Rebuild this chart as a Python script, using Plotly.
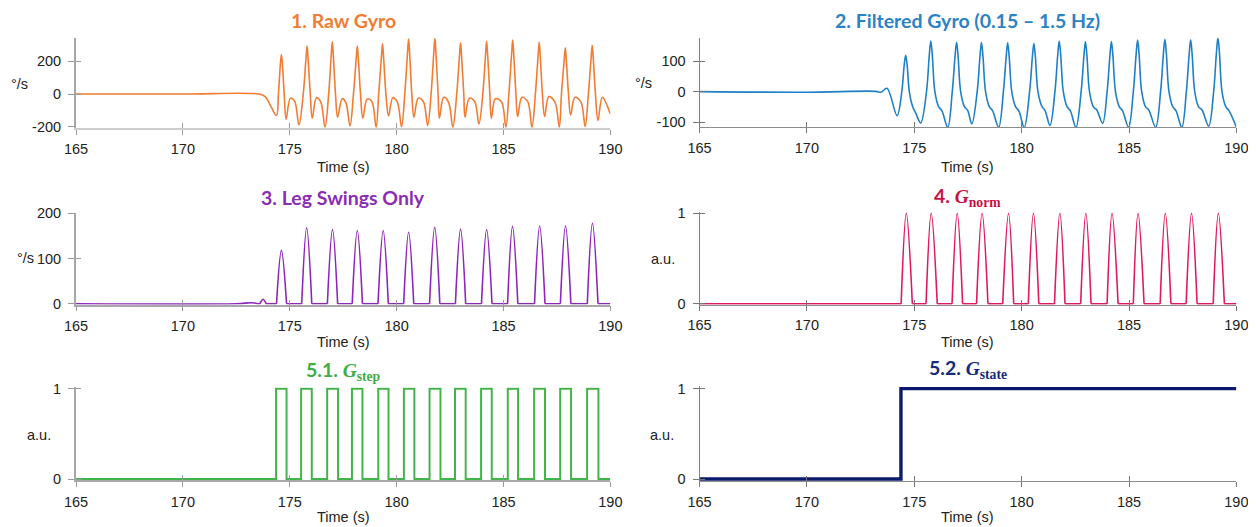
import plotly.graph_objects as go

# page body has an 8px margin: the figure is drawn at (8, 8) in the window
OFF = 8
W, H = 1256 - OFF, 527 - OFF

# ---------------- data ----------------
x_ticks = [165, 170, 175, 180, 185, 190]

# 1. Raw gyro key points
raw_pre_t = [165.0, 170.0, 173.55, 173.85, 174.10, 174.38]
raw_pre_v = [0, 0, 0, -15, -70, -131]
raw_up_t = [174.47, 175.63, 176.82, 177.98, 179.16, 180.38, 181.61, 182.81, 184.03, 185.25, 186.49, 187.71, 188.97]
raw_up_v = [0, 0, 0, 0, 0, 0, 0, 0, 0, 0, 0, 0, 0]
raw_hr_t = [174.56, 175.76, 176.94, 178.11, 179.29, 180.51, 181.74, 182.94, 184.16, 185.38, 186.62, 187.84, 189.10]
raw_hr_v = [180, 219, 238, 219, 230, 253, 257, 234, 241, 247, 237, 211, 223]
raw_peak_t = [174.61, 175.81, 176.99, 178.16, 179.34, 180.56, 181.79, 182.99, 184.21, 185.43, 186.67, 187.89, 189.15]
raw_peak_v = [241, 292, 318, 292, 306, 337, 343, 312, 322, 329, 316, 282, 298]
raw_hf_t = [174.66, 175.86, 177.04, 178.21, 179.39, 180.61, 181.84, 183.04, 184.26, 185.48, 186.72, 187.94, 189.20]
raw_hf_v = [175, 212, 230, 212, 222, 245, 249, 226, 233, 239, 229, 204, 216]
raw_down_t = [174.74, 175.96, 177.14, 178.31, 179.50, 180.71, 181.94, 183.14, 184.36, 185.58, 186.82, 188.04, 189.30]
raw_down_v = [0, 0, 0, 0, 0, 0, 0, 0, 0, 0, 0, 0, 0]
raw_dip_t = [174.83, 176.05, 177.24, 178.42, 179.62, 180.81, 182.00, 183.20, 184.43, 185.66, 186.92, 188.14, 189.42]
raw_dip_v = [-153, -147, -141, -147, -133, -141, -147, -141, -147, -137, -137, -127, -161]
raw_bump_t = [175.03, 176.25, 177.45, 178.62, 179.82, 181.01, 182.20, 183.40, 184.62, 185.86, 187.12, 188.34, 189.62]
raw_bump_v = [-25, -22, -28, -30, -22, -25, -20, -25, -28, -20, -15, -20, -20]
raw_sh_t = [175.23, 176.45, 177.62, 178.84, 180.03, 181.25, 182.43, 183.65, 184.91, 186.13, 187.41, 188.62]
raw_sh_v = [-45, -48, -50, -45, -48, -45, -50, -45, -48, -45, -50, -48]
raw_trough_t = [175.43, 176.65, 177.82, 179.04, 180.23, 181.45, 182.63, 183.85, 185.11, 186.33, 187.61, 188.82]
raw_trough_v = [-188, -202, -194, -202, -198, -192, -202, -182, -202, -202, -202, -198]
raw_end_t = [190.0]
raw_end_v = [-122]

# 2. Filtered gyro key points
filt_pre_t = [165.0, 170.0, 173.20, 173.45, 173.73, 174.20]
filt_pre_v = [0, -2, 1, -2, 11, -79]
filt_up_t = [174.42, 175.57, 176.77, 177.93, 179.15, 180.37, 181.55, 182.77, 183.98, 185.20, 186.47, 187.67, 188.94]
filt_up_v = [0, 0, 0, 0, 0, 0, 0, 0, 0, 0, 0, 0, 0]
filt_hr_t = [174.53, 175.70, 176.90, 178.06, 179.28, 180.50, 181.68, 182.90, 184.11, 185.33, 186.60, 187.80, 189.07]
filt_hr_v = [86, 120, 117, 116, 115, 114, 120, 118, 118, 122, 124, 122, 128]
filt_peak_t = [174.60, 175.77, 176.97, 178.13, 179.35, 180.57, 181.75, 182.97, 184.18, 185.40, 186.67, 187.87, 189.14]
filt_peak_v = [119, 166, 162, 161, 160, 158, 166, 164, 164, 169, 172, 170, 177]
filt_hf_t = [174.67, 175.84, 177.04, 178.20, 179.42, 180.64, 181.82, 183.04, 184.25, 185.47, 186.74, 187.94, 189.21]
filt_hf_v = [86, 120, 117, 116, 115, 114, 120, 118, 118, 122, 124, 122, 128]
filt_down_t = [174.77, 175.96, 177.16, 178.32, 179.54, 180.76, 181.94, 183.16, 184.37, 185.59, 186.86, 188.06, 189.33]
filt_down_v = [0, 0, 0, 0, 0, 0, 0, 0, 0, 0, 0, 0, 0]
filt_sh1_t = [174.92, 176.14, 177.34, 178.50, 179.72, 180.94, 182.12, 183.34, 184.55, 185.77, 187.04, 188.24, 189.51]
filt_sh1_v = [-48, -50, -50, -50, -50, -48, -50, -50, -50, -50, -50, -50, -50]
filt_sh2_t = [175.08, 176.29, 177.49, 178.65, 179.87, 181.09, 182.27, 183.50, 184.70, 185.92, 187.19, 188.40, 189.66]
filt_sh2_v = [-72, -63, -62, -63, -63, -62, -63, -60, -63, -60, -63, -60, -63]
filt_trough_t = [175.30, 176.56, 177.68, 178.93, 180.12, 181.32, 182.53, 183.77, 184.98, 186.24, 187.46, 188.71]
filt_trough_v = [-103, -117, -106, -117, -118, -111, -117, -104, -117, -117, -117, -113]
filt_end_t = [190.0]
filt_end_v = [-117]

# 3. Leg swings only
swing_pre_t = [165.0, 172.5, 173.2, 173.40, 173.58, 173.74, 173.90]
swing_pre_v = [0, 0, 2, 1, 0, 10, 0]
swing_start_t = [174.38, 175.56, 176.76, 177.92, 179.13, 180.33, 181.54, 182.75, 183.97, 185.19, 186.45, 187.66, 188.92]
swing_peak_t = [174.61, 175.79, 177.00, 178.16, 179.37, 180.56, 181.78, 182.99, 184.21, 185.42, 186.69, 187.90, 189.16]
swing_end_t = [174.85, 176.03, 177.24, 178.40, 179.61, 180.80, 182.02, 183.23, 184.46, 185.67, 186.94, 188.15, 189.42]
swing_peak_v = [118, 168, 164, 162, 162, 158, 169, 165, 164, 171, 172, 172, 178]

# 4. G_norm
norm_start_t = [174.39, 175.55, 176.76, 177.90, 179.12, 180.31, 181.53, 182.75, 183.98, 185.20, 186.45, 187.66, 188.92]
norm_peak_t = [174.63, 175.79, 177.00, 178.16, 179.39, 180.55, 181.78, 182.99, 184.21, 185.42, 186.69, 187.91, 189.16]
norm_end_t = [174.91, 176.07, 177.25, 178.43, 179.63, 180.80, 182.02, 183.23, 184.49, 185.70, 186.95, 188.17, 189.44]
norm_peak_v = [1] * 13

# 5.1 G_step
step_rise_t = [174.36, 175.53, 176.75, 177.91, 179.14, 180.34, 181.54, 182.73, 183.95, 185.20, 186.43, 187.65, 188.91]
step_fall_t = [174.85, 176.03, 177.26, 178.40, 179.62, 180.83, 182.05, 183.23, 184.45, 185.68, 186.94, 188.16, 189.44]

# 5.2 G_state
state_t = [165.0, 174.38, 190.0]
state_v = [0, 1, 1]

# ---------------- build traces from the arrays ----------------
raw_x, raw_y = list(raw_pre_t), list(raw_pre_v)
for i in range(len(raw_peak_t)):
    raw_x += [raw_up_t[i], raw_hr_t[i], raw_peak_t[i], raw_hf_t[i], raw_down_t[i], raw_dip_t[i], raw_bump_t[i]]
    raw_y += [raw_up_v[i], raw_hr_v[i], raw_peak_v[i], raw_hf_v[i], raw_down_v[i], raw_dip_v[i], raw_bump_v[i]]
    if i < len(raw_trough_t):
        raw_x += [raw_sh_t[i], raw_trough_t[i]]
        raw_y += [raw_sh_v[i], raw_trough_v[i]]
raw_x += raw_end_t
raw_y += raw_end_v

filt_x, filt_y = list(filt_pre_t), list(filt_pre_v)
for i in range(len(filt_peak_t)):
    filt_x += [filt_up_t[i], filt_hr_t[i], filt_peak_t[i], filt_hf_t[i], filt_down_t[i], filt_sh1_t[i], filt_sh2_t[i]]
    filt_y += [filt_up_v[i], filt_hr_v[i], filt_peak_v[i], filt_hf_v[i], filt_down_v[i], filt_sh1_v[i], filt_sh2_v[i]]
    if i < len(filt_trough_t):
        filt_x.append(filt_trough_t[i])
        filt_y.append(filt_trough_v[i])
filt_x += filt_end_t
filt_y += filt_end_v


def pulses(pre_t, pre_v, st, pk, en, pv, t_end=190.0):
    xs, ys = list(pre_t), list(pre_v)
    last = pre_t[-1]
    for i in range(len(st)):
        xs += [last, st[i], None, st[i], pk[i], en[i], None]
        ys += [0, 0, None, 0, pv[i], 0, None]
        last = en[i]
    xs += [last, t_end]
    ys += [0, 0]
    return xs, ys


swing_x, swing_y = pulses(swing_pre_t, swing_pre_v, swing_start_t, swing_peak_t, swing_end_t, swing_peak_v)
norm_x, norm_y = pulses([165.0], [0], norm_start_t, norm_peak_t, norm_end_t, norm_peak_v)

step_x, step_y = [165.0], [0]
for r, f in zip(step_rise_t, step_fall_t):
    step_x += [r, f]
    step_y += [1, 0]
step_x.append(190.0)
step_y.append(0)

# ---------------- styling ----------------
C_ORANGE = "#F07D32"
C_BLUE = "#1F80C6"
C_BLUE_T = "#2B82C4"
C_PURPLE = "#8E24B8"
C_PURPLE_T = "#8A2DB3"
C_RED = "#E0195A"
C_RED_T = "#C81244"
C_GREEN = "#42B54A"
C_GREEN_T = "#3DAE45"
C_NAVY = "#0C1A6E"
C_NAVY_T = "#172B7C"

TICK_FONT = dict(family="Liberation Sans, Arial, sans-serif", size=14.5, color="#222222")
TITLE_FAMILY = "Lato, Open Sans, sans-serif"
TITLE_SIZE = 19.5
SERIF = "Liberation Serif, DejaVu Serif, serif"

LX = (76.0, 610.4)
RX = (699.5, 1236.4)


def xd(px):
    return [(px[0] - OFF) / W, (px[1] - OFF) / W]


def yd(top, bottom):
    return [1 - (bottom - OFF) / H, 1 - (top - OFF) / H]


# subplot specs: (xpx, (top,bottom), yrange, ytickvals, yticktext, left column?, x-line color, x-line width)
panels = [
    (LX, (38.3, 127.7), [-205, 340], [-200, 0, 200], ["-200", "0", "200"], True, "#CDCDCD", 2),
    (RX, (38.3, 127.3), [-117, 175], [-100, 0, 100], ["-100", "0", "100"], False, "#8C8C8C", 1),
    (LX, (213.3, 304.6), [-2, 200], [0, 100, 200], ["0", "100", "200"], True, "#A8A8A8", 1.5),
    (RX, (212.2, 304.8), [-0.012, 1.012], [0, 1], ["0", "1"], False, "#8C8C8C", 1),
    (LX, (387.3, 480.4), [-0.015, 1.015], [0, 1], ["0", "1"], True, "#A8A8A8", 1.5),
    (RX, (386.4, 481.3), [-0.025, 1.025], [0, 1], ["0", "1"], False, "#8C8C8C", 1),
]

fig = go.Figure()

series = [
    (raw_x, raw_y, C_ORANGE, 1.6, "spline"),
    (filt_x, filt_y, C_BLUE, 1.6, "spline"),
    (swing_x, swing_y, C_PURPLE, 1.6, "spline"),
    (norm_x, norm_y, C_RED, 1.6, "spline"),
    (step_x, step_y, C_GREEN, 2.0, "hv"),
    (state_t, state_v, C_NAVY, 3.4, "hv"),
]

layout = {}
n = len(panels)
for i, ((px, (top, bot), yr, ytv, ytt, left, xlc, xlw), (sx, sy, col, lw, shape)) in enumerate(zip(panels, series)):
    k = i + 1
    ks = "" if k == 1 else str(k)
    ok = k + n
    axc = "#A6A6A6" if left else "#808080"
    axw = 2 if left else 1
    tkc = "#9A9A9A" if left else "#777777"
    layout[f"xaxis{ks}"] = dict(
        domain=xd(px), range=[165, 190], anchor=f"y{ks}", tickvals=x_ticks,
        ticktext=[str(v) for v in x_ticks],
        ticks="outside", ticklen=5, tickwidth=1, tickcolor=tkc, showline=True,
        linecolor=xlc, linewidth=xlw, showgrid=False, zeroline=False,
        tickfont=TICK_FONT, ticklabelstandoff=2, automargin=False,
    )
    layout[f"yaxis{ks}"] = dict(
        domain=yd(top, bot), range=yr, anchor=f"x{ks}", tickvals=ytv, ticktext=ytt,
        ticks="outside", ticklen=6, tickwidth=1, tickcolor=tkc, showline=True,
        linecolor=axc, linewidth=axw, showgrid=False, zeroline=False,
        tickfont=TICK_FONT, ticklabelstandoff=4, automargin=False,
    )
    # overlay axes giving the inner half of the crossing ticks
    layout[f"xaxis{ok}"] = dict(
        overlaying=f"x{ks}", anchor=f"y{ks}", range=[165, 190], tickvals=x_ticks,
        ticks="inside", ticklen=5, tickwidth=1, tickcolor=tkc, showticklabels=False,
        showline=False, showgrid=False, zeroline=False, automargin=False,
    )
    layout[f"yaxis{ok}"] = dict(
        overlaying=f"y{ks}", anchor=f"x{ks}", range=yr, tickvals=ytv, side="left",
        ticks="inside", ticklen=5, tickwidth=1, tickcolor=tkc, showticklabels=False,
        showline=False, showgrid=False, zeroline=False, automargin=False,
    )
    fig.add_trace(go.Scatter(x=[], y=[], xaxis=f"x{ok}", yaxis=f"y{ks}", showlegend=False, hoverinfo="skip"))
    fig.add_trace(go.Scatter(x=[], y=[], xaxis=f"x{ks}", yaxis=f"y{ok}", showlegend=False, hoverinfo="skip"))
    line = dict(color=col, width=lw, shape=shape)
    if shape == "spline":
        line["smoothing"] = 1.0
    fig.add_trace(go.Scatter(x=sx, y=sy, mode="lines", line=line, xaxis=f"x{ks}", yaxis=f"y{ks}",
                             showlegend=False, connectgaps=False, hoverinfo="skip"))


def ann(text, x, y, size=14.5, color="#222222", family="Liberation Sans, Arial, sans-serif"):
    return dict(text=text, x=(x - OFF) / W, y=1 - (y - OFF) / H, xref="paper", yref="paper",
                showarrow=False, xanchor="center", yanchor="middle",
                font=dict(size=size, color=color, family=family))


lc = (LX[0] + LX[1]) / 2
rc = (RX[0] + RX[1]) / 2


def g(sub):
    return f"<span style=\"font-family:{SERIF}\"><i>G</i><sub>{sub}</sub></span>"


annotations = [
    ann("<b>1. Raw Gyro</b>", lc, 20.5, TITLE_SIZE, C_ORANGE, TITLE_FAMILY),
    ann("<b>2. Filtered Gyro (0.15 – 1.5 Hz)</b>", rc, 20.5, TITLE_SIZE, C_BLUE_T, TITLE_FAMILY),
    ann("<b>3. Leg Swings Only</b>", lc, 197, TITLE_SIZE, C_PURPLE_T, TITLE_FAMILY),
    ann("<b>4. " + g("norm") + "</b>", rc, 197, TITLE_SIZE, C_RED_T, TITLE_FAMILY),
    ann("<b>5.1. " + g("step") + "</b>", lc, 371, TITLE_SIZE, C_GREEN_T, TITLE_FAMILY),
    ann("<b>5.2. " + g("state") + "</b>", rc, 369, TITLE_SIZE, C_NAVY_T, TITLE_FAMILY),
    ann("Time (s)", lc, 167),
    ann("Time (s)", rc, 167),
    ann("Time (s)", lc, 342),
    ann("Time (s)", rc, 342),
    ann("Time (s)", lc, 517),
    ann("Time (s)", rc, 517),
    ann("°/s", 19, 84),
    ann("°/s", 643, 83),
    ann("°/s", 25, 258),
    ann("a.u.", 663, 259),
    ann("a.u.", 39, 435),
    ann("a.u.", 662, 435),
]

fig.update_layout(
    width=W, height=H, margin=dict(l=0, r=0, t=0, b=0, autoexpand=False),
    paper_bgcolor="white", plot_bgcolor="white",
    showlegend=False, annotations=annotations, **layout,
)

fig.write_html("out.html")
